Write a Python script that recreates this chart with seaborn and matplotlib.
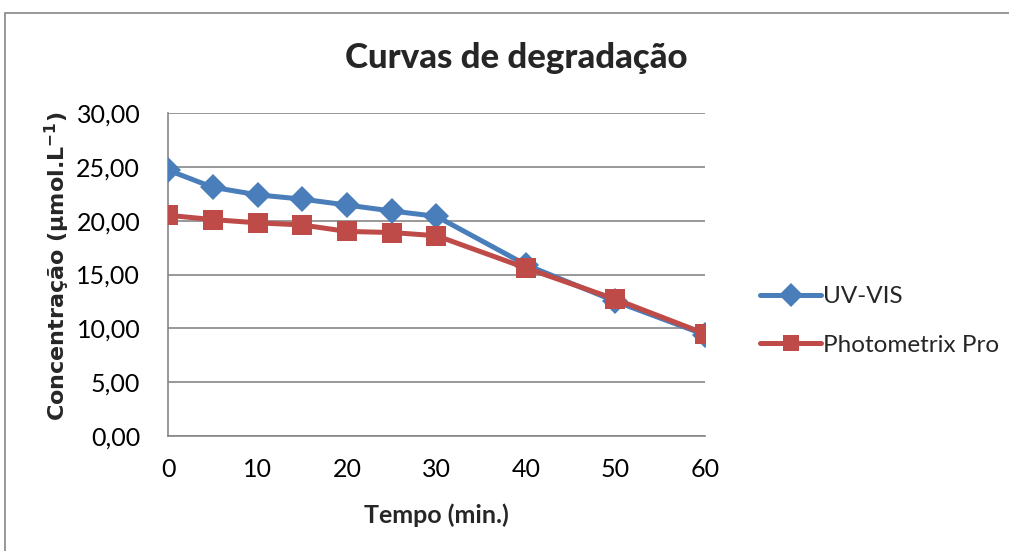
import matplotlib
matplotlib.use("Agg")
import matplotlib.pyplot as plt
import seaborn as sns
import pandas as pd
from matplotlib.patches import Rectangle

# ---- data ----
tempo = [0, 5, 10, 15, 20, 25, 30, 40, 50, 60]
uv_vis = [24.7, 23.1, 22.4, 22.0, 21.45, 20.9, 20.4, 15.9, 12.5, 9.4]
photometrix = [20.5, 20.1, 19.8, 19.6, 19.0, 18.9, 18.6, 15.6, 12.7, 9.5]
series_names = ["UV-VIS", "Photometrix Pro"]
x_ticks = [0, 10, 20, 30, 40, 50, 60]
y_ticks = [0, 5, 10, 15, 20, 25, 30]
y_tick_labels = ["0,00", "5,00", "10,00", "15,00", "20,00", "25,00", "30,00"]

df = pd.DataFrame({
    "Tempo": tempo * 2,
    "Conc": uv_vis + photometrix,
    "Serie": [series_names[0]] * len(tempo) + [series_names[1]] * len(tempo),
})

sns.set_style("white")
plt.rcParams["font.family"] = ["Lato", "DejaVu Sans"]
plt.rcParams["mathtext.fontset"] = "dejavusans"

fig = plt.figure(figsize=(10.09, 5.51), dpi=100)
ax = fig.add_axes([168 / 1009, 1 - 436 / 551, (705 - 168) / 1009, (436 - 113) / 551])

# outer chart border
fig.patches.append(Rectangle((5 / 1009, -0.1), 1.2, 1 - 13 / 551 + 0.1,
                             transform=fig.transFigure, fill=False,
                             edgecolor="#868686", linewidth=1.2))

colors = {"UV-VIS": "#4A7EBB", "Photometrix Pro": "#BE4B48"}
markers = {"UV-VIS": "D", "Photometrix Pro": "s"}
sizes = {"UV-VIS": 13, "Photometrix Pro": 14.5}

sns.lineplot(data=df, x="Tempo", y="Conc", hue="Serie", style="Serie",
             hue_order=series_names, style_order=series_names,
             palette=colors, markers=markers, dashes=False,
             linewidth=3.6, markersize=12, markeredgewidth=0, ax=ax,
             legend=True, zorder=3)

for line, name in zip(ax.lines, series_names):
    line.set_markersize(sizes[name])

ax.set_xlim(0, 60)
ax.set_ylim(0, 30)
ax.set_xticks(x_ticks)
ax.set_xticklabels([str(t) for t in x_ticks])
ax.set_yticks(y_ticks)
ax.set_yticklabels(y_tick_labels)
ax.tick_params(axis="both", labelsize=18, colors="#868686", labelcolor="black",
               length=7, width=1.2, direction="out")
ax.tick_params(axis="x", pad=9)
ax.tick_params(axis="y", pad=13)
ax.yaxis.grid(True, color="#868686", linewidth=1.2)
ax.xaxis.grid(False)
for s in ["top", "right"]:
    ax.spines[s].set_visible(False)
for s in ["left", "bottom"]:
    ax.spines[s].set_color("#868686")
    ax.spines[s].set_linewidth(1.2)
ax.set_axisbelow(True)

ax.set_xlabel("Tempo (min.)", fontsize=18, fontweight="bold", labelpad=16)
ax.set_ylabel(r"Concentração (µmol.L$^{\mathbf{-1}}$)", fontsize=16,
              fontweight="bold", family="DejaVu Sans")
ax.yaxis.set_label_coords((72 - 168) / 537, (436 - 266) / 323)
fig.text(516 / 1009, 1 - 58 / 551, "Curvas de degradação", fontsize=25,
         fontweight="black", ha="center", va="center")

handles, labels = ax.get_legend_handles_labels()
ax.legend(handles, labels, loc="center left", bbox_to_anchor=(748 / 1009, 1 - 321 / 551),
          bbox_transform=fig.transFigure, frameon=False, fontsize=17.5,
          handlelength=2.5, handletextpad=0.1, labelspacing=1.15, borderpad=0)

fig.savefig("out.png", dpi=100, facecolor="white")
